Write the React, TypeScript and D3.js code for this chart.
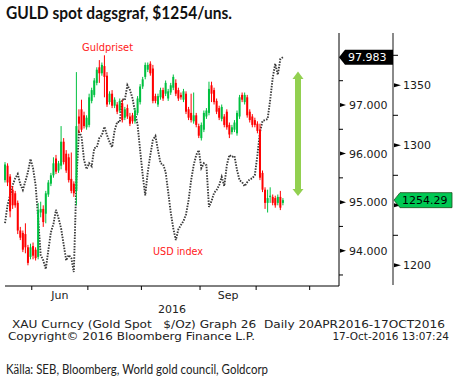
import { scaleLinear, line as d3Line } from "d3";

// gold spot, one candle per weekday (17 May - 17 Oct 2016): [open, high, low, close]
const goldCandles: [number, number, number, number][] = [
  [1271, 1286, 1269, 1284], [1283, 1285, 1266, 1269], [1274, 1276, 1240, 1245], [1263, 1266, 1247, 1250],
  [1260, 1262, 1248, 1250], [1252, 1254, 1226, 1229], [1229, 1232, 1221, 1223], [1227, 1229, 1211, 1213],
  [1226, 1235, 1210, 1215], [1215, 1217, 1200, 1202], [1207, 1218, 1205, 1215], [1216, 1219, 1205, 1208],
  [1213, 1215, 1204, 1206], [1207, 1252, 1205, 1246], [1244, 1253, 1240, 1247], [1247, 1250, 1232, 1236],
  [1243, 1262, 1235, 1260], [1259, 1271, 1257, 1269], [1268, 1277, 1266, 1275], [1275, 1290, 1273, 1285],
  [1289, 1292, 1276, 1278], [1279, 1287, 1277, 1285], [1283, 1316, 1280, 1303], [1303, 1306, 1284, 1286],
  [1293, 1296, 1277, 1279], [1290, 1293, 1269, 1271], [1272, 1294, 1260, 1262], [1268, 1270, 1257, 1260],
  [1262, 1361, 1250, 1316], [1324, 1330, 1310, 1318], [1330, 1338, 1311, 1313], [1325, 1328, 1314, 1316],
  [1315, 1325, 1313, 1323], [1317, 1343, 1315, 1340], [1337, 1348, 1335, 1346], [1342, 1356, 1340, 1354],
  [1352, 1365, 1350, 1363], [1365, 1371, 1352, 1360], [1360, 1369, 1358, 1367], [1366, 1375, 1340, 1357],
  [1358, 1361, 1332, 1334], [1336, 1345, 1334, 1343], [1343, 1346, 1331, 1333], [1333, 1340, 1331, 1338],
  [1334, 1336, 1326, 1328], [1329, 1339, 1327, 1337], [1335, 1338, 1319, 1321], [1323, 1332, 1321, 1330],
  [1331, 1334, 1322, 1324], [1324, 1327, 1316, 1318], [1325, 1327, 1318, 1320], [1320, 1331, 1318, 1329],
  [1327, 1341, 1325, 1339], [1336, 1351, 1334, 1349], [1349, 1357, 1347, 1355], [1357, 1369, 1355, 1367],
  [1363, 1369, 1361, 1367], [1368, 1370, 1358, 1360], [1364, 1367, 1335, 1337], [1341, 1343, 1335, 1337],
  [1334, 1343, 1332, 1341], [1340, 1348, 1338, 1346], [1346, 1348, 1337, 1339], [1343, 1354, 1341, 1352],
  [1339, 1347, 1337, 1345], [1344, 1352, 1342, 1350], [1348, 1359, 1346, 1357], [1352, 1355, 1341, 1343],
  [1346, 1348, 1337, 1339], [1342, 1344, 1338, 1340], [1338, 1347, 1336, 1345], [1343, 1345, 1326, 1328],
  [1330, 1332, 1321, 1323], [1327, 1343, 1319, 1321], [1320, 1344, 1318, 1325], [1325, 1327, 1315, 1317],
  [1316, 1318, 1306, 1308], [1306, 1319, 1304, 1317], [1313, 1329, 1311, 1327], [1324, 1331, 1322, 1329],
  [1327, 1353, 1325, 1347], [1350, 1353, 1336, 1343], [1346, 1348, 1334, 1336], [1337, 1339, 1326, 1328],
  [1331, 1333, 1321, 1323], [1322, 1334, 1320, 1332], [1324, 1326, 1315, 1317], [1328, 1330, 1313, 1315],
  [1317, 1319, 1306, 1309], [1311, 1317, 1309, 1315], [1313, 1321, 1311, 1319], [1310, 1329, 1308, 1327],
  [1324, 1342, 1322, 1340], [1342, 1344, 1336, 1338], [1336, 1344, 1334, 1342], [1340, 1342, 1323, 1325],
  [1328, 1330, 1319, 1321], [1324, 1326, 1315, 1317], [1321, 1323, 1315, 1317], [1318, 1320, 1310, 1312],
  [1313, 1318, 1271, 1273], [1277, 1279, 1261, 1263], [1263, 1265, 1247, 1252], [1252, 1263, 1244, 1256],
  [1257, 1265, 1252, 1258], [1257, 1259, 1250, 1252], [1256, 1258, 1248, 1250], [1252, 1259, 1250, 1257],
  [1257, 1262, 1246, 1248], [1252, 1256, 1250, 1254.29],
];

// USD index close, same days
const usdIndex = [
  94.57, 94.94, 95.14, 95.35, 95.49, 95.58, 95.37, 95.25, 95.43, 95.62,
  95.89, 95.70, 95.35, 94.67, 93.91, 93.80, 93.62, 94.01, 94.38, 94.55,
  94.84, 94.67, 94.46, 94.13, 93.80, 93.91, 93.85, 93.56, 95.45, 96.44,
  96.36, 95.87, 95.68, 95.80, 95.74, 96.11, 96.13, 96.32, 96.38, 96.55,
  96.38, 96.24, 96.13, 96.48, 96.65, 96.65, 97.12, 97.10, 97.41, 97.31,
  97.14, 96.86, 96.59, 96.07, 95.56, 95.14, 95.62, 95.97, 96.28, 96.36,
  96.07, 95.80, 95.78, 95.62, 95.21, 94.79, 94.46, 94.22, 94.44, 94.53,
  94.61, 94.75, 95.04, 95.45, 95.76, 95.97, 96.07, 95.70, 95.80, 95.76,
  94.90, 95.02, 95.19, 95.25, 95.35, 95.52, 95.33, 95.76, 95.97, 95.93,
  95.95, 95.66, 95.45, 95.41, 95.33, 95.41, 95.47, 95.49, 95.56, 95.97,
  96.44, 96.67, 96.69, 96.71, 97.10, 97.56, 97.85, 97.62, 97.95, 97.983,
];

// month boundaries (weekday index) and month labels
const monthBoundaries = [10.5, 32.5, 53.5, 76.5, 98.5, 119.5];
const monthLabels = [
  { label: "Jun", idx: 21.5 },
  { label: "Sep", idx: 87.5 },
];
const yearLabel = { label: "2016", idx: 65.5 };

const usdTicks = [94, 95, 96, 97];
const usdMinor = [93.5, 94.5, 95.5, 96.5, 97.5];
// 1250 is covered by the last-price flag, so only its tick mark shows
const goldTicks = [1200, 1250, 1300, 1350];
const goldTickLabels = [1200, 1300, 1350];
const goldMinor = [1225, 1275, 1325, 1375];

const lastUsd = 97.983;
const lastGold = 1254.29;

const GREEN = "#00c040";
const RED = "#ff0000";
const FONT = "DejaVu Sans, Verdana, sans-serif";

const App = () => {
  const xScale = scaleLinear().domain([0, 131]).range([5, 339]);
  const goldY = scaleLinear().domain([1200, 1350]).range([265.3, 85.3]);
  const usdY = scaleLinear().domain([94, 97]).range([250.7, 105]);

  const usdLine = d3Line<number>()
    .x((_, i) => xScale(i))
    .y((v) => usdY(v));

  const plotBottom = 286;
  const leftAxisX = 339;
  const rightAxisX = 393;

  const yUsdLast = usdY(lastUsd);
  const yGoldLast = goldY(lastGold);

  return (
    <svg width={456} height={384} style={{ display: "block", background: "#fff" }}>
      <style>{`body{margin:0}`}</style>
      {/* title */}
      <text x={6} y={19} fontFamily="Lato, sans-serif" fontWeight="bold" fontSize={16.5}
        textLength={226} lengthAdjust="spacingAndGlyphs" fill="#111">
        GULD spot dagsgraf, $1254/uns.
      </text>

      {/* USD index dotted line */}
      <path d={usdLine(usdIndex) || ""} fill="none" stroke="#3a3a3a" strokeWidth={1.9}
        strokeDasharray="1.5 1.3" />

      {/* gold candles */}
      {goldCandles.map(([o, h, l, c], i) => {
        const x = xScale(i);
        const col = c >= o ? GREEN : RED;
        const top = goldY(Math.max(o, c));
        const bot = goldY(Math.min(o, c));
        return (
          <g key={i}>
            <line x1={x} x2={x} y1={goldY(h)} y2={goldY(l)} stroke={col} strokeWidth={1} />
            <rect x={x - 1} y={top} width={2} height={Math.max(1, bot - top)} fill={col} />
          </g>
        );
      })}

      {/* series labels */}
      <text x={82} y={51} fontFamily={FONT} fontSize={10} fill="#ff2020" textLength={51}
        lengthAdjust="spacingAndGlyphs">Guldpriset</text>
      <text x={153} y={255} fontFamily={FONT} fontSize={10} fill="#ff2020" textLength={50}
        lengthAdjust="spacingAndGlyphs">USD index</text>

      {/* green double arrow */}
      <g fill="#92d050">
        <rect x={295} y={78} width={6} height={112} />
        <polygon points="292.5,79 298,71.5 303.5,79" />
        <polygon points="292.5,189 298,196 303.5,189" />
      </g>

      {/* x axis */}
      <line x1={5} x2={leftAxisX} y1={plotBottom} y2={plotBottom} stroke="#000" />
      {monthBoundaries.map((b) => (
        <line key={b} x1={xScale(b)} x2={xScale(b)} y1={plotBottom} y2={plotBottom + 4} stroke="#000" />
      ))}
      {monthLabels.map((m) => (
        <text key={m.label} x={xScale(m.idx)} y={298.5} textAnchor="middle" fontFamily={FONT}
          fontSize={11} fill="#222">{m.label}</text>
      ))}
      <text x={xScale(yearLabel.idx)} y={312.5} textAnchor="middle" fontFamily={FONT} fontSize={11}
        fill="#222">{yearLabel.label}</text>

      {/* USD axis (left of the two) */}
      <line x1={leftAxisX} x2={leftAxisX} y1={33} y2={plotBottom} stroke="#000" />
      {usdMinor.map((t) => (
        <line key={t} x1={leftAxisX} x2={leftAxisX + 4} y1={usdY(t)} y2={usdY(t)} stroke="#000" />
      ))}
      {usdTicks.map((t) => (
        <g key={t}>
          <polygon points={`${leftAxisX + 1},${usdY(t) - 2} ${leftAxisX + 7},${usdY(t)} ${leftAxisX + 1},${usdY(t) + 2}`} fill="#000" />
          <text x={349} y={usdY(t) + 4} fontFamily={FONT} fontSize={11} fill="#1a1a1a">
            {t.toFixed(3)}
          </text>
        </g>
      ))}

      {/* gold axis (right) */}
      <line x1={rightAxisX} x2={rightAxisX} y1={33} y2={plotBottom - 1} stroke="#8a8a8a" strokeWidth={2} />
      {goldMinor.map((t) => (
        <line key={t} x1={rightAxisX} x2={rightAxisX + 5} y1={goldY(t)} y2={goldY(t)} stroke="#000" />
      ))}
      {goldTicks.map((t) => (
        <polygon key={t} points={`${rightAxisX + 1},${goldY(t) - 2} ${rightAxisX + 8},${goldY(t)} ${rightAxisX + 1},${goldY(t) + 2}`} fill="#000" />
      ))}
      {goldTickLabels.map((t) => (
        <text key={t} x={403} y={goldY(t) + 4} fontFamily={FONT} fontSize={11} fill="#1a1a1a">{t}</text>
      ))}

      {/* last value flags */}
      <polygon
        points={`${leftAxisX},${yUsdLast} ${leftAxisX + 6},${yUsdLast - 7.5} ${rightAxisX},${yUsdLast - 7.5} ${rightAxisX},${yUsdLast + 7.5} ${leftAxisX + 6},${yUsdLast + 7.5}`}
        fill="#000" />
      <text x={348} y={yUsdLast + 4} fontFamily={FONT} fontSize={11} fill="#fff">{lastUsd.toFixed(3)}</text>
      <polygon
        points={`${rightAxisX + 1},${yGoldLast} ${rightAxisX + 7},${yGoldLast - 7.5} 452,${yGoldLast - 7.5} 452,${yGoldLast + 7.5} ${rightAxisX + 7},${yGoldLast + 7.5}`}
        fill="#00c853" stroke="#1d4d1d" strokeWidth={0.8} />
      <text x={402} y={yGoldLast + 4} fontFamily={FONT} fontSize={11} fill="#000">{lastGold.toFixed(2)}</text>

      {/* Bloomberg footer */}
      <text x={12} y={327.5} fontFamily={FONT} fontSize={10.5} fill="#222" textLength={433}
        lengthAdjust="spacingAndGlyphs" style={{ whiteSpace: "pre" }}>
        {"XAU Curncy (Gold Spot   $/Oz) Graph 26  Daily 20APR2016-17OCT2016"}
      </text>
      <text x={8} y={339.5} fontFamily={FONT} fontSize={10.5} fill="#222" textLength={247}
        lengthAdjust="spacingAndGlyphs">Copyright© 2016 Bloomberg Finance L.P.</text>
      <text x={449} y={339.5} textAnchor="end" fontFamily={FONT} fontSize={10.5} fill="#222">
        17-Oct-2016 13:07:24
      </text>

      {/* source */}
      <text x={6} y={374} fontFamily="Lato, sans-serif" fontSize={13.5} fill="#222" textLength={262}
        lengthAdjust="spacingAndGlyphs">Källa: SEB, Bloomberg, World gold council, Goldcorp</text>
    </svg>
  );
};

export default App;
